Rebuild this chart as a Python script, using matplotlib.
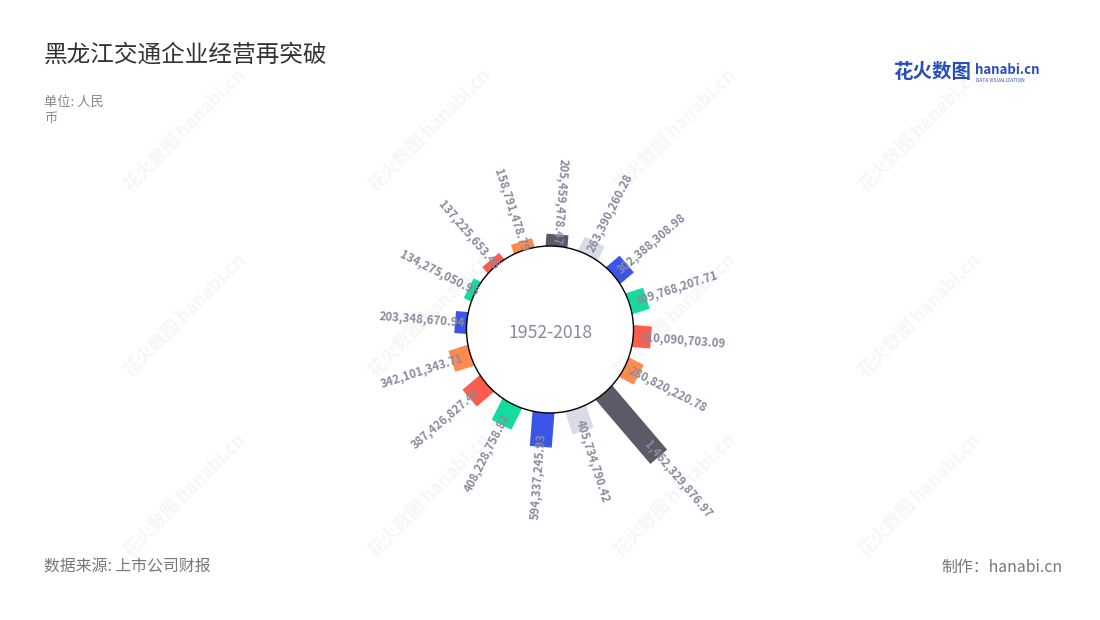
import matplotlib
matplotlib.use('Agg')
import matplotlib.pyplot as plt
import numpy as np
from matplotlib.patches import Rectangle, Circle
from matplotlib.transforms import Affine2D

plt.rcParams['font.family'] = ['Noto Sans CJK SC', 'DejaVu Sans']

# ---- data ----
values = [205459478.47, 263390260.28, 302388308.98, 309768207.71, 310090703.09,
          280820220.78, 1462329876.97, 405734790.42, 594337245.93, 408228758.82,
          387426827.47, 342101343.71, 203348670.94, 134275050.95, 137225653.46,
          158791478.79]
labels = [f"{v:,.2f}" for v in values]
colors = ['#5b5b67', '#d8dce8', '#3a55e8', '#12dd9f', '#ff5b4f', '#ff8a4d',
          '#5b5b67', '#d8dce8', '#3a55e8', '#12dd9f', '#ff5b4f', '#ff8a4d',
          '#3a55e8', '#12dd9f', '#ff5b4f', '#ff8a4d']
center_label = "1952-2018"
title = "黑龙江交通企业经营再突破"
unit = "单位: 人民\n币"
source = "数据来源: 上市公司财报"
credit = "制作：hanabi.cn"

W_PX, H_PX = 1100, 620
fig = plt.figure(figsize=(W_PX / 100, H_PX / 100), dpi=100)
fig.patch.set_facecolor('white')

ax = fig.add_axes([0, 0, 1, 1])
ax.patch.set_alpha(0)
px = 0.1742  # data units (1e8 yuan) per pixel
cxp, cyp = 550, 329.5
ax.set_xlim(-cxp * px, (W_PX - cxp) * px)
ax.set_ylim(-(H_PX - cyp) * px, cyp * px)
ax.axis('off')

vals = np.array(values) / 1e8
R = 83.5 * px
BW = 22 * px
n = len(vals)
step = 360 / n
offset = 4.5
lab_color = '#8a8a9e'

for i, (v, c, lab) in enumerate(zip(vals, colors, labels)):
    theta = offset + i * step
    rect = Rectangle((-BW / 2, R - 2 * px), BW, v + 2 * px, facecolor=c,
                     edgecolor='none', zorder=2)
    rect.set_transform(Affine2D().rotate_deg(-theta) + ax.transData)
    ax.add_patch(rect)
    L_px = v / px
    r_lab = R + v - (9 + 0.12 * L_px) * px
    t = np.deg2rad(theta)
    x, y = r_lab * np.sin(t), r_lab * np.cos(t)
    if 15 < theta < 180:
        rot, ha = 90 - theta, 'left'
    else:
        rot, ha = 270 - theta, 'right'
    ax.text(x, y, lab, rotation=rot, rotation_mode='anchor', ha=ha,
            va='center', fontsize=8.3, color=lab_color, fontweight='bold',
            zorder=5)

ax.add_patch(Circle((0, 0), R, facecolor='white', edgecolor='black', lw=1,
                    zorder=3))
ax.text(0, -4 * px, center_label, ha='center', va='center', fontsize=12.7,
        color=lab_color, zorder=4)

# watermarks (very faint, on top)
for cx in [185, 430, 675, 920]:
    for cy in [130, 315, 495]:
        fig.text(cx / W_PX, 1 - cy / H_PX, "花火数图 hanabi.cn", rotation=45,
                 ha='center', va='center', fontsize=13, color='#9a9a9a',
                 alpha=0.09, fontweight='bold', zorder=10)

# texts
fig.text(44 / W_PX, 1 - 55 / H_PX, title, ha='left', va='center', fontsize=17,
         color='#333333')
fig.text(44 / W_PX, 1 - 96 / H_PX, unit, ha='left', va='top', fontsize=9.5,
         color='#888888', linespacing=1.3)
fig.text(44 / W_PX, 1 - 567 / H_PX, source, ha='left', va='center',
         fontsize=11.4, color='#777777')
fig.text(1062 / W_PX, 1 - 567 / H_PX, credit, ha='right', va='center',
         fontsize=11.4, color='#777777')

# logo
fig.text(893 / W_PX, 1 - 73 / H_PX, "花火数图", ha='left', va='center',
         fontsize=14, color='#2a4dbd', fontweight='bold')
fig.text(975 / W_PX, 1 - 70 / H_PX, "hanabi.cn", ha='left', va='center',
         fontsize=9.5, color='#2a4dbd', fontweight='bold')
fig.text(976 / W_PX, 1 - 80 / H_PX, "DATA VISUALIZATION", ha='left',
         va='center', fontsize=3.5, color='#2a4dbd')

fig.savefig('out.png', dpi=100, facecolor='white')
